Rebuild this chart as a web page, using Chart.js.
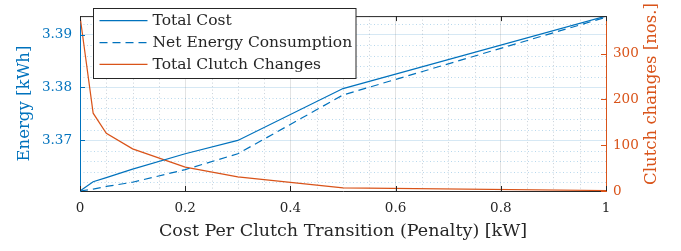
<!DOCTYPE html>
<html>
<head>
<meta charset="utf-8">
<script src="https://cdn.jsdelivr.net/npm/chart.js@4/dist/chart.umd.min.js"></script>
<style>
  html, body { margin: 0; padding: 0; background: #fff; }
  #wrap { width: 681px; height: 251px; position: relative; }
</style>
</head>
<body>
<div id="wrap"><canvas id="c"></canvas></div>
<script>
// ---- data ----
const penalty   = [0, 0.025, 0.05, 0.1, 0.2, 0.3, 0.5, 1];
const totalCost = [3.36034, 3.3621, 3.36288, 3.3645, 3.3674, 3.36993, 3.37977, 3.39351];
const netEnergy = [3.36034, 3.3607, 3.3612, 3.3620, 3.3644, 3.3674, 3.37855, 3.3933];
const clutchChanges = [382, 170, 126, 92, 52, 31, 7, 1];

const xTicks = [0, 0.2, 0.4, 0.6, 0.8, 1];
const energyTicks = [3.37, 3.38, 3.39];
const clutchTicks = [0, 100, 200, 300];

const seriesNames = ['Total Cost', 'Net Energy Consumption', 'Total Clutch Changes'];
const xTitle = 'Cost Per Clutch Transition (Penalty) [kW]';
const yTitle = 'Energy [kWh]';
const y1Title = 'Clutch changes [nos.]';

const BLUE = '#0072BD', ORANGE = '#D95319', DARK = '#262626';
const FONT = 'DejaVu Serif';
Chart.defaults.font.family = FONT;

const pts = (ys) => penalty.map((x, i) => ({x, y: ys[i]}));
const setTicks = (arr) => (scale) => { scale.ticks = arr.map(v => ({value: v})); };

const decor = {
  id: 'decor',
  beforeDatasetsDraw(chart) {
    const {ctx, chartArea: a, scales: {x, y}} = chart;
    ctx.save();
    ctx.lineWidth = 1;
    ctx.setLineDash([1, 2.5]);
    // vertical minor grid
    ctx.strokeStyle = 'rgba(60,90,120,0.28)';
    for (let k = 1; k < 20; k++) {
      if (k % 4 === 0) continue;
      const px = Math.round(x.getPixelForValue(k * 0.05)) + 0.5;
      ctx.beginPath(); ctx.moveTo(px, a.top); ctx.lineTo(px, a.bottom); ctx.stroke();
    }
    // horizontal minor grid
    ctx.strokeStyle = 'rgba(0,114,189,0.28)';
    for (let k = 0; k <= 20; k++) {
      const v = 3.36 + k * 0.002;
      if (k % 5 === 0) continue;
      if (v < y.min || v > y.max) continue;
      const py = Math.round(y.getPixelForValue(v)) + 0.5;
      ctx.beginPath(); ctx.moveTo(a.left, py); ctx.lineTo(a.right, py); ctx.stroke();
    }
    ctx.restore();
  },
  afterDatasetsDraw(chart) {
    const {ctx, chartArea: a, scales: {x, y, y1}} = chart;
    ctx.save();
    ctx.setLineDash([]);
    ctx.lineWidth = 1;
    // top border
    ctx.strokeStyle = DARK;
    ctx.beginPath(); ctx.moveTo(a.left, a.top + 0.5); ctx.lineTo(a.right, a.top + 0.5); ctx.stroke();
    // x inner ticks (bottom and top)
    xTicks.forEach(v => {
      const px = Math.round(x.getPixelForValue(v)) + 0.5;
      ctx.beginPath(); ctx.moveTo(px, a.bottom); ctx.lineTo(px, a.bottom - 5); ctx.stroke();
      ctx.beginPath(); ctx.moveTo(px, a.top); ctx.lineTo(px, a.top + 5); ctx.stroke();
    });
    // left inner ticks
    ctx.strokeStyle = BLUE;
    energyTicks.forEach(v => {
      const py = Math.round(y.getPixelForValue(v)) + 0.5;
      ctx.beginPath(); ctx.moveTo(a.left, py); ctx.lineTo(a.left + 5, py); ctx.stroke();
    });
    // right inner ticks
    ctx.strokeStyle = ORANGE;
    clutchTicks.forEach(v => {
      const py = Math.round(y1.getPixelForValue(v)) + 0.5;
      ctx.beginPath(); ctx.moveTo(a.right, py); ctx.lineTo(a.right - 5, py); ctx.stroke();
    });

    // legend
    const lx = 93.5, ly = 8.5, lw = 262.5, lh = 70;
    ctx.fillStyle = '#fff';
    ctx.fillRect(lx, ly, lw, lh);
    ctx.strokeStyle = DARK;
    ctx.lineWidth = 1;
    ctx.strokeRect(lx, ly, lw, lh);
    const rows = [20.7, 42.7, 64.3];
    chart.data.datasets.forEach((ds, i) => {
      ctx.strokeStyle = ds.borderColor;
      ctx.lineWidth = ds.borderWidth;
      ctx.setLineDash(ds.borderDash || []);
      ctx.beginPath(); ctx.moveTo(99.5, rows[i]); ctx.lineTo(147.5, rows[i]); ctx.stroke();
      ctx.setLineDash([]);
      ctx.fillStyle = DARK;
      ctx.font = '15.5px "' + FONT + '"';
      ctx.textAlign = 'left';
      ctx.textBaseline = 'middle';
      ctx.fillText(ds.label, 152.5, rows[i] + 0.5);
    });

    // right axis title (reads bottom-to-top)
    ctx.fillStyle = ORANGE;
    ctx.font = '16.5px "' + FONT + '"';
    ctx.textAlign = 'center';
    ctx.textBaseline = 'middle';
    ctx.translate(651.7, 94);
    ctx.rotate(-Math.PI / 2);
    ctx.fillText(y1Title, 0, 0);
    ctx.restore();
  }
};

new Chart(document.getElementById('c'), {
  type: 'line',
  data: {
    datasets: [
      { label: seriesNames[0], data: pts(totalCost), yAxisID: 'y', borderColor: BLUE, borderWidth: 1.2, pointRadius: 0, tension: 0, fill: false },
      { label: seriesNames[1], data: pts(netEnergy), yAxisID: 'y', borderColor: BLUE, borderWidth: 1.2, borderDash: [8, 5], pointRadius: 0, tension: 0, fill: false },
      { label: seriesNames[2], data: pts(clutchChanges), yAxisID: 'y1', borderColor: ORANGE, borderWidth: 1.2, pointRadius: 0, tension: 0, fill: false }
    ]
  },
  options: {
    responsive: true,
    maintainAspectRatio: false,
    animation: false,
    layout: { padding: { top: 7, left: 0, right: 0, bottom: 0 } },
    plugins: { legend: { display: false }, tooltip: { enabled: false } },
    scales: {
      x: {
        type: 'linear', position: 'bottom', min: 0, max: 1,
        afterBuildTicks: setTicks(xTicks),
        afterFit: (s) => { s.height = 60; },
        grid: { color: 'rgba(38,38,38,0.13)', drawTicks: false, lineWidth: 1 },
        border: { color: DARK, width: 1 },
        ticks: { color: DARK, padding: 9, font: { size: 13.5 }, maxRotation: 0, callback: (v) => String(v) },
        title: { display: true, text: xTitle, color: DARK, font: { size: 17.5 }, padding: { top: 0, bottom: 8.8 } }
      },
      y: {
        type: 'linear', position: 'left', min: 3.36034, max: 3.39351,
        afterBuildTicks: setTicks(energyTicks),
        afterFit: (s) => { s.width = 80; },
        grid: { color: 'rgba(0,114,189,0.16)', drawTicks: false, lineWidth: 1 },
        border: { color: BLUE, width: 1 },
        ticks: { color: BLUE, padding: 8, font: { size: 13.5 }, callback: (v) => v.toFixed(2) },
        title: { display: true, text: yTitle, color: BLUE, font: { size: 16.5 }, padding: { top: 15, bottom: 0 } }
      },
      y1: {
        type: 'linear', position: 'right', min: 0, max: 382,
        afterBuildTicks: setTicks(clutchTicks),
        afterFit: (s) => { s.width = 75; },
        grid: { display: false, drawTicks: false },
        border: { color: ORANGE, width: 1 },
        ticks: { color: ORANGE, padding: 7, font: { size: 13.5 }, callback: (v) => String(v) },
        title: { display: false }
      }
    }
  },
  plugins: [decor]
});
</script>
</body>
</html>
